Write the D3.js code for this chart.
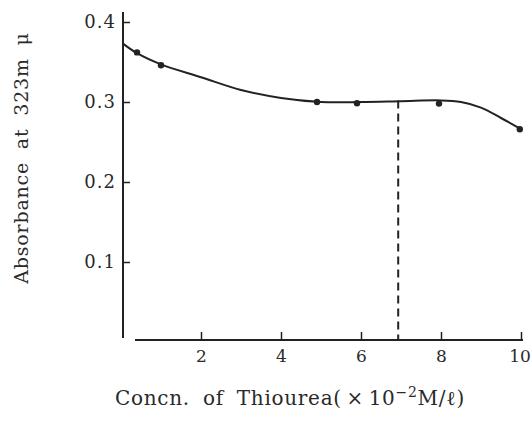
<!DOCTYPE html>
<html>
<head>
<meta charset="utf-8">
<script src="https://cdn.jsdelivr.net/npm/d3@7"></script>
<style>
  html, body { margin: 0; padding: 0; background: #fff; }
  svg { display: block; }
  svg text { font-family: "DejaVu Serif", serif; fill: #2a2a2a; }
</style>
</head>
<body>
<svg id="chart" width="531" height="437"></svg>
<script>
// Measured points: thiourea concentration (x 10^-2 M/l) vs absorbance at 323 mμ
const concn = [0.4, 1.0, 4.9, 5.9, 7.95, 9.97];
const absorbance = [0.362, 0.346, 0.300, 0.2985, 0.298, 0.266];

// Smoothed curve drawn through the measurements
const curveConcn = [0.05, 0.4, 1, 2, 3, 4, 5, 6, 7, 8, 8.5, 9, 9.5, 10];
const curveAbs = [0.373, 0.361, 0.347, 0.331, 0.315, 0.305, 0.300, 0.300, 0.301, 0.302, 0.300, 0.293, 0.280, 0.266];

// Optimum concentration marker
const markerConcn = 6.93;
const markerAbs = 0.302;

const xTicks = [2, 4, 6, 8, 10];
const yTicks = [0.1, 0.2, 0.3, 0.4];

const svg = d3.select("#chart");
const ink = "#222";

const x = d3.scaleLinear().domain([0, 10]).range([121, 521]);
const y = d3.scaleLinear().domain([0, 0.4]).range([342, 22]);

// Y axis: ticks pointing inward, labels on the left
const yAxis = svg.append("g")
  .attr("transform", "translate(123,0)")
  .call(d3.axisLeft(y).tickValues(yTicks).tickFormat(d3.format(".1f"))
    .tickSizeInner(-7).tickSizeOuter(0).tickPadding(7));
yAxis.attr("font-family", null).attr("font-size", 18);
yAxis.select(".domain").remove();
yAxis.selectAll(".tick line").attr("stroke", ink).attr("stroke-width", 1.5);
yAxis.selectAll(".tick text").attr("letter-spacing", 1);
svg.append("line")
  .attr("x1", 123).attr("x2", 123).attr("y1", 12).attr("y2", 338)
  .attr("stroke", ink).attr("stroke-width", 2);

// X axis: ticks pointing up, detached from the y axis
const xAxis = svg.append("g")
  .attr("transform", "translate(0,340)")
  .call(d3.axisBottom(x).tickValues(xTicks).tickFormat(d3.format("d"))
    .tickSizeInner(-8).tickSizeOuter(0).tickPadding(10));
xAxis.attr("font-family", null).attr("font-size", 17);
xAxis.select(".domain").remove();
xAxis.selectAll(".tick line").attr("stroke", ink).attr("stroke-width", 1.5);
// keep the last label inside the right edge
xAxis.selectAll(".tick text").filter(d => d === 10).attr("dx", -1.5);
svg.append("line")
  .attr("x1", 135).attr("x2", 523).attr("y1", 340).attr("y2", 340)
  .attr("stroke", ink).attr("stroke-width", 1.8);

// Dashed vertical marker
svg.append("line")
  .attr("x1", x(markerConcn)).attr("x2", x(markerConcn))
  .attr("y1", y(markerAbs)).attr("y2", 340)
  .attr("stroke", ink).attr("stroke-width", 2)
  .attr("stroke-dasharray", "8,5");

// Smooth curve
const line = d3.line()
  .x((d, i) => x(curveConcn[i]))
  .y((d, i) => y(curveAbs[i]))
  .curve(d3.curveCatmullRom.alpha(0.5));
svg.append("path")
  .datum(curveConcn)
  .attr("d", line)
  .attr("fill", "none")
  .attr("stroke", ink)
  .attr("stroke-width", 2);

// Data points
svg.selectAll("circle.pt")
  .data(concn)
  .join("circle")
  .attr("class", "pt")
  .attr("cx", d => x(d))
  .attr("cy", (d, i) => y(absorbance[i]))
  .attr("r", 3.2)
  .attr("fill", ink);

// Axis titles
svg.append("text")
  .attr("transform", "translate(28,158) rotate(-90)")
  .attr("text-anchor", "middle")
  .attr("font-size", 19)
  .attr("letter-spacing", 0.8)
  .attr("word-spacing", 6)
  .text("Absorbance at 323m μ");

const xt = svg.append("text")
  .attr("x", 115).attr("y", 405)
  .attr("font-size", 20)
  .attr("letter-spacing", 0.7)
  .attr("word-spacing", 6);
xt.append("tspan").text("Concn. of Thiourea(\u2009×\u200910");
xt.append("tspan").attr("dy", -8).attr("font-size", 14).text("−2");
xt.append("tspan").attr("dy", 8).text("M/ℓ)");
</script>
</body>
</html>
